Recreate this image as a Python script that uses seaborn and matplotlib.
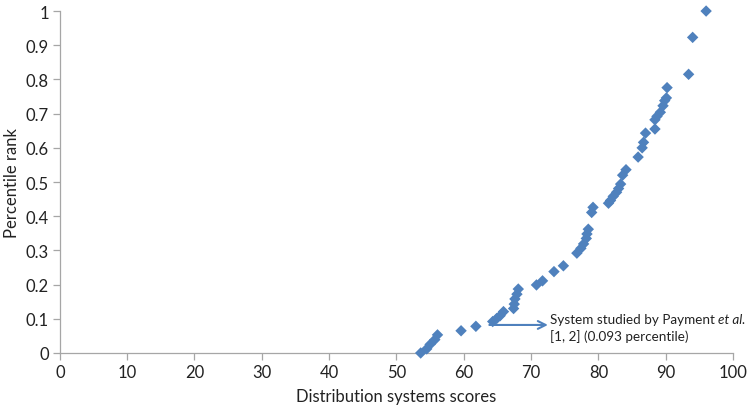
import matplotlib
matplotlib.use("Agg")
import matplotlib.pyplot as plt
import seaborn as sns
import pandas as pd
from matplotlib.transforms import offset_copy

scores = [53.6, 54.5, 55.0, 55.7, 56.1, 59.6, 61.8, 64.3, 64.9, 65.4, 65.9,
          67.4, 67.5, 67.6, 67.9, 68.1, 70.8, 71.7, 73.4, 74.8,
          76.8, 77.4, 77.8, 78.2, 78.3, 78.5, 79.0, 79.2,
          81.5, 81.8, 82.2, 82.7, 83.0, 83.3, 83.6, 84.1,
          85.9, 86.5, 86.7, 87.0, 88.4, 88.4, 88.7, 89.2, 89.6, 89.85,
          90.1, 90.2, 93.4, 94.0, 96.0]
ranks = [0.0, 0.012, 0.025, 0.039, 0.053, 0.065, 0.078, 0.092, 0.101, 0.109, 0.121,
         0.130, 0.143, 0.158, 0.172, 0.187, 0.199, 0.211, 0.238, 0.255,
         0.292, 0.306, 0.319, 0.335, 0.348, 0.362, 0.411, 0.426,
         0.438, 0.446, 0.458, 0.470, 0.481, 0.494, 0.520, 0.536,
         0.573, 0.600, 0.616, 0.643, 0.655, 0.682, 0.692, 0.704, 0.723, 0.738,
         0.746, 0.776, 0.815, 0.923, 1.0]

x_ticks = list(range(0, 101, 10))
y_ticks = [0, 0.1, 0.2, 0.3, 0.4, 0.5, 0.6, 0.7, 0.8, 0.9, 1]
y_tick_labels = ["0", "0.1", "0.2", "0.3", "0.4", "0.5", "0.6", "0.7", "0.8", "0.9", "1"]

df = pd.DataFrame({"score": scores, "rank": ranks})

sns.set_style("white")
plt.rcParams["font.family"] = ["Lato", "DejaVu Sans"]

fig = plt.figure(figsize=(7.48, 4.10), dpi=100)
ax = fig.add_axes([0.080, 0.1366, 0.900, 0.834])

sns.scatterplot(data=df, x="score", y="rank", marker="D", s=34,
                color="#4F81BD", edgecolor="none", linewidth=0, ax=ax,
                zorder=3, clip_on=False)

ax.set_xlim(0, 100)
ax.set_ylim(0, 1)
ax.set_xticks(x_ticks)
ax.set_yticks(y_ticks)
ax.set_yticklabels(y_tick_labels)
ax.set_xlabel("Distribution systems scores", fontsize=12, color="#222222", labelpad=6)
ax.set_ylabel("Percentile rank", fontsize=12, color="#222222", labelpad=4)

for side in ["top", "right"]:
    ax.spines[side].set_visible(False)
for side in ["left", "bottom"]:
    ax.spines[side].set_color("#A6A6A6")
    ax.spines[side].set_linewidth(0.9)
ax.tick_params(axis="both", which="both", direction="out", length=5, width=0.9,
               color="#A6A6A6", labelsize=12, labelcolor="#222222", pad=3,
               bottom=True, left=True)

ax.annotate("", xy=(72.5, 0.082), xytext=(63.8, 0.082),
            arrowprops=dict(arrowstyle="->", color="#4F81BD", lw=1.5,
                            mutation_scale=14, shrinkA=0, shrinkB=0))
t1 = ax.text(72.8, 0.099, "System studied by Payment ", fontsize=9.7,
             color="#222222", va="center", ha="left")
fig.canvas.draw()
w = t1.get_window_extent(renderer=fig.canvas.get_renderer()).width
ax.text(72.8, 0.099, "et al.", fontsize=9.7, fontstyle="italic",
        color="#222222", va="center", ha="left",
        transform=offset_copy(ax.transData, fig=fig, x=w, y=0, units="dots"))
ax.text(72.8, 0.05, "[1, 2] (0.093 percentile)", fontsize=9.7,
        color="#222222", va="center", ha="left")

fig.savefig("out.png", dpi=100)
